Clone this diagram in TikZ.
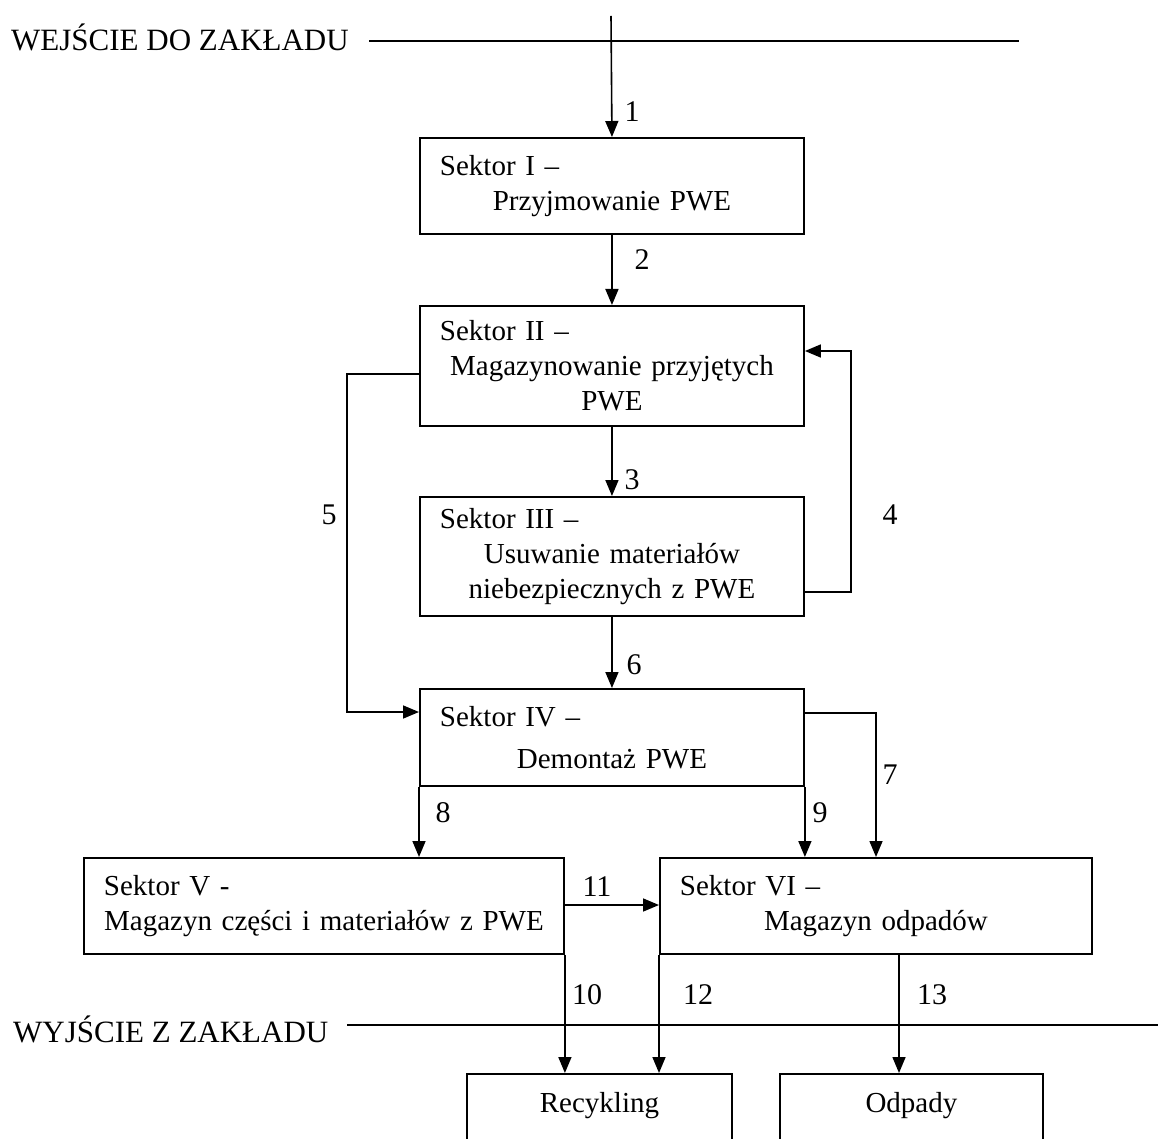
\documentclass[tikz,border=0pt]{standalone}
\usepackage{fontspec}
\setmainfont{Liberation Serif}
\usetikzlibrary{arrows.meta}
\newcommand{\tytul}[1]{\makebox[\hsize][l]{#1}}

\begin{document}
\begin{tikzpicture}[x=1pt, y=-1pt,
    >={Triangle[length=16pt, width=13pt]},
    sektor/.style={draw, line width=1.9pt, anchor=north west, align=center,
      inner xsep=20pt, inner ysep=4pt, font=\fontsize{29}{35}\selectfont},
    cel/.style={draw, line width=1.9pt, anchor=north west, align=center,
      inner xsep=0pt, inner ysep=9pt, text height=30pt, text depth=60pt,
      font=\fontsize{29}{35}\selectfont},
    nr/.style={inner sep=0pt, font=\fontsize{30}{36}\selectfont},
    opis/.style={inner sep=0pt, anchor=base west, font=\fontsize{31}{37}\selectfont},
    linia/.style={line width=1.6pt},
    granica/.style={line width=2pt}]
  \useasboundingbox (0,0) rectangle (1158,1139);

  % wejscie / wyjscie
  \node[opis] (wejscie) at (11,51) {WEJŚCIE DO ZAKŁADU};
  \node[opis] (wyjscie) at (13,1042) {WYJŚCIE Z ZAKŁADU};
  \coordinate (wejA) at (369,41);
  \coordinate (wejB) at (1019,41);
  \coordinate (wyjA) at (347,1025);
  \coordinate (wyjB) at (1158,1025);
  \coordinate (wej) at (611,16);

  % sektory
  \node[sektor, text width=344pt, minimum height=96pt] (s1) at (419,137)
    {\tytul{Sektor I –}\\ Przyjmowanie PWE};
  \node[sektor, text width=344pt, minimum height=120pt] (s2) at (419,305)
    {\tytul{Sektor II –}\\ Magazynowanie przyjętych\\ PWE};
  \node[sektor, text width=344pt, minimum height=119pt] (s3) at (419,496)
    {\tytul{Sektor III –}\\ Usuwanie materiałów\\ niebezpiecznych z PWE};
  \node[sektor, text width=344pt, minimum height=97pt] (s4) at (419,688)
    {\tytul{Sektor IV –}\\[7pt] Demontaż PWE};
  \node[sektor, text width=440pt, minimum height=96pt] (s5) at (83,857)
    {\tytul{Sektor V -}\\ Magazyn części i materiałów z PWE};
  \node[sektor, text width=392pt, minimum height=96pt] (s6) at (659,857)
    {\tytul{Sektor VI –}\\ Magazyn odpadów};
  \node[cel, text width=265pt] (rec) at (466,1073) {Recykling};
  \node[cel, text width=263pt] (odp) at (779,1073) {Odpady};

  % numery strumieni
  \node[nr] (n1) at (632,112) {1};
  \node[nr] (n2) at (642,260) {2};
  \node[nr] (n3) at (632,480) {3};
  \node[nr] (n4) at (890,515) {4};
  \node[nr] (n5) at (329,515) {5};
  \node[nr] (n6) at (634,665) {6};
  \node[nr] (n7) at (890,775) {7};
  \node[nr] (n8) at (443,813) {8};
  \node[nr] (n9) at (820,813) {9};
  \node[nr] (n10) at (587,995) {10};
  \node[nr] (n11) at (597,887) {11};
  \node[nr] (n12) at (698,995) {12};
  \node[nr] (n13) at (932,995) {13};

  \coordinate (p4) at (851,592);
  \coordinate (q4) at (851,351);
  \coordinate (p5) at (347,374);
  \coordinate (q5) at (347,712);
  \coordinate (p7) at (876,713);
  \coordinate (p11) at (563,905);
  \coordinate (p13) at (899,953);

  \draw[granica] (wejA) -- (wejB);
  \draw[granica] (wyjA) -- (wyjB);
  \draw[linia, ->] (wej) -- (s1.north);
  \draw[linia, ->] (s1.south) -- (s2.north);
  \draw[linia, ->] (s2.south) -- (s3.north);
  \draw[linia, ->] (s3.south) -- (s4.north);
  \draw[linia, ->] (s3.east |- p4) -- (p4) -- (q4) -- (s2.east |- q4);
  \draw[linia, ->] (s2.west |- p5) -- (p5) -- (q5) -- (s4.west |- q5);
  \draw[linia, ->] (s4.east |- p7) -- (p7) -- (p7 |- s6.north);
  \draw[linia, ->] (s4.south west) -- (s4.south west |- s5.north);
  \draw[linia, ->] (s4.south east) -- (s4.south east |- s6.north);
  \draw[linia, ->] (s5.east |- p11) -- (s6.west |- p11);
  \draw[linia, ->] (s5.south east) -- (s5.south east |- rec.north);
  \draw[linia, ->] (s6.south west) -- (s6.south west |- rec.north);
  \draw[linia, ->] (p13 |- s6.south) -- (p13 |- odp.north);
\end{tikzpicture}
\end{document}
